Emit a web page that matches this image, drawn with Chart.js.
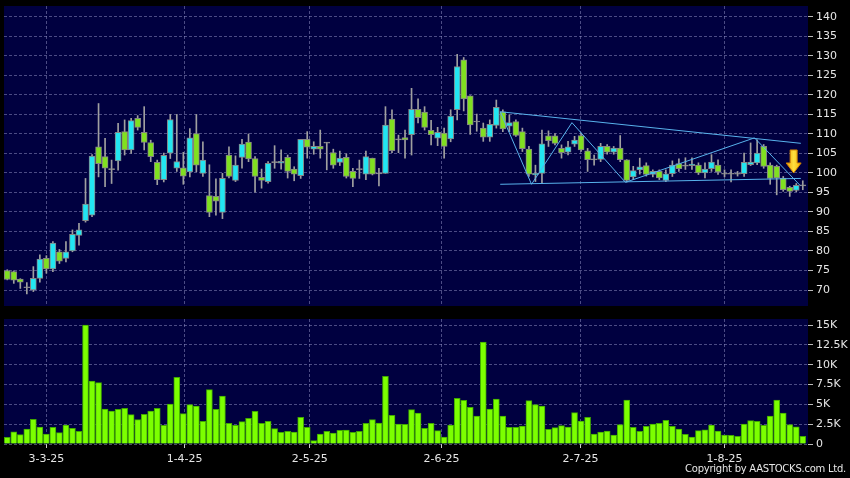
<!DOCTYPE html>
<html>
<head>
<meta charset="utf-8">
<script src="https://cdn.jsdelivr.net/npm/chart.js@4.4.1/dist/chart.umd.min.js"></script>
<style>
  html, body { margin: 0; padding: 0; background: #000; }
  #wrap { position: relative; width: 850px; height: 478px; background: #000; overflow: hidden; }
  #priceCanvas { position: absolute; left: 0; top: 0; }
  #volCanvas { position: absolute; left: 0; top: 310px; }
  #copy { position: absolute; right: 4px; top: 463px; color: #e6e6e6; font: 10px "DejaVu Sans", sans-serif; letter-spacing: -0.25px; white-space: nowrap; }
</style>
</head>
<body>
<div id="wrap">
  <canvas id="priceCanvas" width="850" height="310"></canvas>
  <canvas id="volCanvas" width="850" height="168"></canvas>
  <div id="copy">Copyright by AASTOCKS.com Ltd.</div>
</div>
<script>
// daily candles (oldest first)
const opens = [75.0, 74.7, 72.8, 70.7, 70.0, 73.0, 78.1, 75.4, 79.8, 78.1,
  80.0, 84.0, 87.8, 89.2, 106.7, 104.2, 101.0, 103.1, 110.6, 105.9,
  114.0, 110.4, 107.8, 102.7, 98.3, 105.1, 101.2, 101.3, 100.3, 110.1,
  99.9, 94.2, 94.0, 89.9, 104.6, 98.1, 104.0, 107.9, 103.7, 98.9,
  97.8, 102.8, 102.5, 104.0, 101.0, 99.3, 108.6, 106.1, 106.8, 107.8,
  105.2, 102.7, 104.0, 100.4, 101.0, 99.7, 103.8, 99.9, 99.9, 113.8,
  108.6, 109.1, 109.8, 116.3, 115.6, 110.9, 108.9, 110.2, 108.7, 116.2,
  129.0, 119.8, 113.2, 111.5, 109.2, 112.2, 115.7, 112.0, 113.2, 110.6,
  106.1, 99.5, 99.9, 109.5, 109.5, 106.3, 105.3, 107.4, 109.6, 105.7,
  103.5, 103.5, 106.8, 105.3, 106.4, 103.4, 99.0, 100.8, 101.9, 99.6,
  100.4, 98.1, 99.8, 102.4, 101.9, 101.9, 102.0, 100.0, 101.1, 102.0,
  99.8, 99.8, 99.8, 99.8, 102.1, 102.6, 106.8, 102.0, 101.7, 98.7,
  96.3, 95.5, 96.8];
const closes = [72.7, 72.5, 72.0, 70.7, 73.0, 77.9, 75.4, 82.0, 77.4, 79.8,
  84.3, 85.4, 92.0, 104.3, 102.4, 101.2, 101.0, 110.4, 105.9, 113.4,
  111.7, 107.8, 104.2, 98.3, 104.5, 113.7, 102.9, 99.2, 109.0, 102.0,
  103.3, 89.9, 92.8, 98.6, 99.1, 102.0, 107.4, 103.6, 99.1, 98.1,
  102.5, 102.8, 103.0, 100.4, 99.7, 108.6, 106.6, 106.8, 106.1, 107.8,
  102.0, 103.8, 99.1, 98.6, 101.0, 104.2, 99.7, 99.9, 112.3, 105.7,
  108.6, 108.5, 116.3, 114.2, 111.7, 109.8, 110.4, 106.8, 114.6, 127.3,
  119.0, 112.3, 113.2, 109.2, 112.5, 116.8, 111.3, 112.9, 109.6, 106.2,
  99.7, 99.9, 107.5, 108.3, 107.6, 105.2, 106.7, 108.4, 105.9, 103.4,
  103.5, 106.8, 105.3, 106.4, 103.4, 98.1, 100.6, 101.6, 99.6, 100.4,
  98.7, 99.8, 102.0, 101.1, 101.9, 102.3, 100.0, 101.0, 102.8, 100.3,
  99.8, 99.8, 99.8, 102.7, 102.8, 105.1, 101.7, 98.6, 98.7, 95.7,
  95.3, 96.8, 96.8];
const highs = [75.2, 74.9, 72.9, 71.9, 76.0, 79.0, 78.8, 82.4, 80.4, 82.4,
  85.4, 87.1, 98.6, 104.7, 117.8, 108.9, 103.3, 112.7, 113.6, 114.0,
  114.7, 117.0, 108.4, 103.3, 105.1, 115.0, 115.0, 105.3, 111.4, 115.0,
  108.0, 102.1, 98.5, 99.9, 106.7, 104.4, 108.6, 110.0, 104.2, 101.0,
  102.9, 107.0, 105.9, 104.6, 101.6, 108.6, 110.6, 108.0, 111.0, 107.8,
  106.1, 105.6, 104.9, 101.2, 103.3, 105.6, 103.8, 101.2, 117.0, 116.2,
  109.7, 111.0, 121.7, 119.0, 117.0, 113.5, 111.7, 111.5, 116.2, 130.4,
  129.6, 119.8, 115.1, 112.8, 113.6, 118.7, 116.2, 114.9, 113.6, 111.5,
  106.8, 102.0, 111.0, 110.8, 110.1, 107.2, 108.1, 109.4, 110.2, 106.3,
  104.6, 107.6, 107.3, 106.8, 109.6, 103.4, 101.7, 103.8, 102.6, 100.8,
  100.8, 100.8, 103.1, 103.6, 103.9, 103.9, 102.6, 102.6, 104.7, 103.4,
  100.8, 100.8, 100.4, 105.1, 107.7, 108.5, 107.3, 102.6, 102.0, 99.1,
  96.6, 97.3, 98.0];
const lows = [72.6, 71.7, 70.4, 69.0, 69.6, 72.0, 74.3, 74.7, 76.8, 77.2,
  79.8, 81.5, 87.4, 88.8, 99.0, 96.5, 97.3, 100.7, 104.6, 105.0,
  111.0, 105.9, 102.9, 97.0, 97.7, 103.7, 100.4, 97.1, 99.0, 100.3,
  99.1, 88.8, 89.2, 88.3, 98.7, 97.8, 101.2, 102.9, 95.1, 96.1,
  97.4, 101.2, 101.0, 98.7, 98.0, 98.6, 103.8, 104.8, 103.8, 100.8,
  101.2, 101.9, 98.7, 96.5, 98.6, 98.3, 99.5, 96.7, 99.9, 105.2,
  105.2, 103.8, 104.6, 112.8, 111.0, 107.2, 107.0, 103.8, 108.0, 113.6,
  115.9, 109.9, 110.7, 108.1, 108.1, 111.5, 110.6, 110.6, 109.4, 105.5,
  99.1, 97.8, 97.3, 106.8, 107.2, 103.8, 104.6, 106.8, 105.5, 100.4,
  102.0, 102.9, 104.8, 104.8, 102.9, 97.7, 98.3, 99.7, 99.2, 99.0,
  98.3, 97.8, 99.1, 100.4, 100.9, 100.9, 99.6, 98.7, 100.4, 99.6,
  99.0, 97.7, 99.2, 99.1, 101.9, 102.1, 101.2, 97.1, 94.4, 95.3,
  94.0, 95.2, 95.7];
// volume in thousands
const volumes = [0.84, 1.55, 1.18, 1.89, 3.1, 2.14, 1.26, 2.1, 1.43, 2.4,
  1.97, 1.6, 15.0, 7.94, 7.73, 4.41, 4.16, 4.37, 4.5, 3.7,
  3.07, 3.74, 4.16, 4.5, 2.35, 5.04, 8.4, 3.82, 4.96, 4.79,
  2.86, 6.85, 4.37, 6.05, 2.6, 2.35, 2.82, 3.24, 4.12, 2.6,
  2.86, 1.93, 1.47, 1.6, 1.5, 3.36, 2.1, 0.42, 1.26, 1.6,
  1.39, 1.72, 1.76, 1.47, 1.6, 2.6, 3.07, 2.65, 8.53, 3.61,
  2.52, 2.48, 4.33, 3.9, 1.97, 2.6, 1.68, 0.88, 2.4, 5.76,
  5.5, 4.62, 3.53, 12.86, 4.41, 5.67, 3.53, 2.1, 2.1, 2.27,
  5.46, 4.96, 4.79, 1.85, 2.06, 2.31, 2.14, 3.95, 2.9, 3.36,
  1.26, 1.51, 1.64, 1.13, 2.44, 5.55, 2.1, 1.6, 2.23, 2.52,
  2.6, 2.98, 2.23, 1.89, 1.22, 0.88, 1.68, 1.8, 2.4, 1.64,
  1.13, 1.09, 0.97, 2.52, 2.94, 2.86, 2.35, 3.53, 5.55, 3.9,
  2.44, 2.18, 0.97];

// date ticks sit at these candle positions
const tickLabels = ['3-3-25', '1-4-25', '2-5-25', '2-6-25', '2-7-25', '1-8-25'];
const tickIndex = [6.0, 27.2, 46.4, 66.6, 87.9, 110.0];
const priceTicks = [70, 75, 80, 85, 90, 95, 100, 105, 110, 115, 120, 125, 130, 135, 140];
const volTicks = [0, 2.5, 5, 7.5, 10, 12.5, 15];

// drawn pattern lines (candle index, price)
const upperLineX = [75.6, 121.7];
const upperLineY = [115.7, 107.6];
const lowerLineX = [75.6, 121.7];
const lowerLineY = [97.1, 98.6];
const zigzagX = [75.6, 80.4, 86.6, 94.8, 114.6, 121.6];
const zigzagY = [115.7, 97.1, 112.9, 97.6, 109.0, 96.8];
// warning arrow: candle index, tip price, top price
const arrowX = 120.6, arrowTip = 100.0, arrowTop = 105.9;

const X_MIN = -0.5, X_MAX = 122.8;
const UP = '#22e6f2', DOWN = '#80e020', FLAT = '#9a9a9a';
const GRID = 'rgba(150,150,200,0.5)';
const LINE = '#58b2ec';
const FONT = { family: 'DejaVu Sans', size: 11 };

const bodyData = opens.map((o, i) => {
  const c = closes[i];
  return { x: i, y: o === c ? [o - 0.13, o + 0.13] : [o, c] };
});
const bodyColors = opens.map((o, i) => closes[i] > o ? UP : (closes[i] < o ? DOWN : FLAT));
const wickData = highs.map((h, i) => ({ x: i, y: [lows[i], h] }));
const toPts = (xs, ys) => xs.map((x, i) => ({ x: x, y: ys[i] }));

const plotBg = {
  id: 'plotBg',
  beforeDraw(chart) {
    const { ctx, chartArea: a } = chart;
    ctx.save();
    ctx.fillStyle = '#000040';
    ctx.fillRect(a.left, a.top, a.right - a.left, a.bottom - a.top);
    ctx.restore();
  }
};

const arrowMark = {
  id: 'arrowMark',
  afterDatasetsDraw(chart) {
    const { ctx, scales } = chart;
    const cx = scales.x.getPixelForValue(arrowX);
    const yTip = scales.y.getPixelForValue(arrowTip);
    const yTop = scales.y.getPixelForValue(arrowTop);
    const headH = 10, shaftW = 7, headW = 15;
    ctx.save();
    ctx.beginPath();
    ctx.moveTo(cx - shaftW / 2, yTop);
    ctx.lineTo(cx + shaftW / 2, yTop);
    ctx.lineTo(cx + shaftW / 2, yTip - headH);
    ctx.lineTo(cx + headW / 2, yTip - headH);
    ctx.lineTo(cx, yTip);
    ctx.lineTo(cx - headW / 2, yTip - headH);
    ctx.lineTo(cx - shaftW / 2, yTip - headH);
    ctx.closePath();
    const g = ctx.createLinearGradient(cx - headW / 2, 0, cx + headW / 2, 0);
    g.addColorStop(0, '#f0a000');
    g.addColorStop(0.5, '#ffe040');
    g.addColorStop(1, '#f5b000');
    ctx.fillStyle = g;
    ctx.fill();
    ctx.strokeStyle = '#d08000';
    ctx.lineWidth = 1;
    ctx.stroke();
    ctx.restore();
  }
};

// keep label overhang from shrinking the plot area
const noPad = (s) => { s.paddingTop = 0; s.paddingBottom = 0; s.paddingLeft = 0; s.paddingRight = 0; };

const xGrid = (showTicks) => ({
  type: 'linear',
  min: X_MIN,
  max: X_MAX,
  offset: false,
  grid: { color: GRID, offset: false, drawTicks: showTicks, tickLength: 4, tickColor: '#cccccc' },
  border: { display: false, dash: [3, 2] },
  afterBuildTicks: (s) => { s.ticks = tickIndex.map(v => ({ value: v })); }
});

// --- price panel ---
const priceX = xGrid(false);
priceX.ticks = { display: false };
priceX.afterFit = (s) => { s.height = 0; noPad(s); };

new Chart(document.getElementById('priceCanvas'), {
  type: 'bar',
  data: {
    datasets: [
      { type: 'line', data: toPts(upperLineX, upperLineY), borderColor: LINE, borderWidth: 1, pointRadius: 0, order: 0 },
      { type: 'line', data: toPts(lowerLineX, lowerLineY), borderColor: LINE, borderWidth: 1, pointRadius: 0, order: 0 },
      { type: 'line', data: toPts(zigzagX, zigzagY), borderColor: LINE, borderWidth: 1, pointRadius: 0, order: 0 },
      { data: bodyData, backgroundColor: bodyColors, borderColor: '#858585', borderWidth: 1,
        borderSkipped: false, barThickness: 6, grouped: false, order: 1 },
      { data: wickData, backgroundColor: '#a0a0a0', barThickness: 1, grouped: false, order: 2 }
    ]
  },
  options: {
    responsive: false,
    animation: false,
    devicePixelRatio: 1,
    layout: { padding: { left: 4, top: 6, bottom: 4, right: 0 } },
    plugins: { legend: { display: false }, tooltip: { enabled: false } },
    scales: {
      x: priceX,
      y: {
        position: 'right',
        min: 65.9,
        max: 142.8,
        afterBuildTicks: (s) => { s.ticks = priceTicks.map(v => ({ value: v })); },
        afterFit: (s) => { s.width = 42; noPad(s); },
        ticks: { color: '#e6e6e6', font: FONT, padding: 3 },
        grid: { color: GRID, tickColor: '#bbbbbb', tickLength: 5 },
        border: { display: false, dash: [3, 2] }
      }
    }
  },
  plugins: [plotBg, arrowMark]
});

// --- volume panel ---
const volX = xGrid(true);
volX.ticks = { color: '#e6e6e6', font: FONT, padding: 5, maxRotation: 0, autoSkip: false,
  callback: (v, i) => tickLabels[i] };
volX.afterFit = (s) => { s.height = 34; noPad(s); };

new Chart(document.getElementById('volCanvas'), {
  type: 'bar',
  data: {
    datasets: [{
      data: volumes.map((v, i) => ({ x: i, y: v })),
      backgroundColor: '#7cff00',
      borderColor: '#40a800',
      borderWidth: 1,
      barThickness: 6
    }]
  },
  options: {
    responsive: false,
    animation: false,
    devicePixelRatio: 1,
    layout: { padding: { left: 4, top: 9, bottom: 0, right: 0 } },
    plugins: { legend: { display: false }, tooltip: { enabled: false } },
    scales: {
      x: volX,
      y: {
        position: 'right',
        min: 0,
        max: 15.76,
        afterBuildTicks: (s) => { s.ticks = volTicks.map(v => ({ value: v })); },
        afterFit: (s) => { s.width = 42; noPad(s); },
        ticks: { color: '#e6e6e6', font: FONT, padding: 3,
          callback: (v) => v === 0 ? '0' : v + 'K' },
        grid: { color: GRID, tickColor: '#bbbbbb', tickLength: 5 },
        border: { display: false, dash: [3, 2] }
      }
    }
  },
  plugins: [plotBg]
});
</script>
</body>
</html>
